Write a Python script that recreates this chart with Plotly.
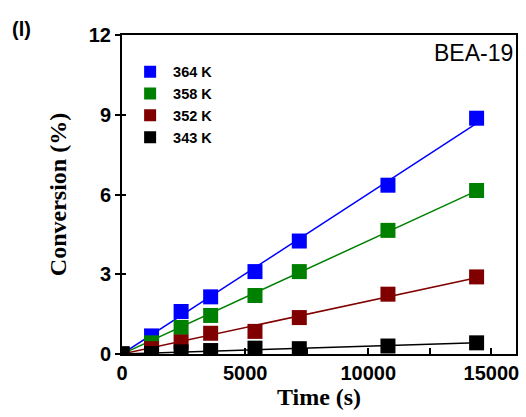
import numpy as np
import plotly.graph_objects as go

time_s = [0, 1200, 2400, 3600, 5400, 7200, 10800, 14400]
labels = ["364 K", "358 K", "352 K", "343 K"]
colors = ["#0000FF", "#008000", "#800000", "#000000"]
conv_364 = [0, 0.68, 1.6, 2.15, 3.1, 4.25, 6.35, 8.87]
conv_358 = [0, 0.42, 1.0, 1.45, 2.2, 3.1, 4.65, 6.15]
conv_352 = [0, 0.2, 0.45, 0.78, 0.85, 1.37, 2.25, 2.9]
conv_343 = [0, 0.02, 0.08, 0.13, 0.22, 0.2, 0.3, 0.42]
series = [conv_364, conv_358, conv_352, conv_343]
x_ticks = [0, 5000, 10000, 15000]
x_minor = [2500, 7500, 12500]
y_ticks = [0, 3, 6, 9, 12]

fig = go.Figure()
t = np.array(time_s, dtype=float)
for lab, col, ys in zip(labels, colors, series):
    y = np.array(ys, dtype=float)
    slope = float((t * y).sum() / (t * t).sum())
    fig.add_trace(go.Scatter(x=[0, t[-1]], y=[0, slope * t[-1]], mode="lines",
                             line=dict(color=col, width=1.5), showlegend=False,
                             hoverinfo="skip"))
for lab, col, ys in zip(labels, colors, series):
    fig.add_trace(go.Scatter(x=time_s, y=ys, mode="markers", name="<b>%s</b>" % lab,
                             marker=dict(symbol="square", size=15, color=col)))
# invisible trace to activate the inner-tick overlay axis
fig.add_trace(go.Scatter(x=[None], y=[None], yaxis="y2", showlegend=False,
                         hoverinfo="skip"))

tickfont = dict(family="Liberation Sans", size=20, color="black")
fig.update_layout(
    width=526, height=417,
    margin=dict(l=122, r=7, t=35, b=63),
    paper_bgcolor="white", plot_bgcolor="white",
    font=dict(family="Liberation Sans", color="black"),
    legend=dict(x=0.013, y=0.935, xanchor="left", yanchor="top",
                bgcolor="rgba(0,0,0,0)", borderwidth=0,
                font=dict(family="Liberation Sans", size=14.5),
                itemsizing="constant", tracegroupgap=0, itemwidth=36),
    xaxis=dict(range=[0, 16000], tickvals=x_ticks,
               ticktext=["<b>%d</b>" % v for v in x_ticks],
               ticks="inside", ticklen=6, tickwidth=1.5, tickcolor="black",
               minor=dict(tickvals=x_minor, ticks="inside", ticklen=6,
                          tickwidth=1.5, tickcolor="black"),
               showline=True, linewidth=2, linecolor="black", mirror=True,
               showgrid=False, zeroline=False, tickfont=tickfont,
               title=dict(text="<b>Time (s)</b>", standoff=5,
                          font=dict(family="Liberation Serif", size=24))),
    yaxis=dict(range=[0, 12], tickvals=y_ticks,
               ticktext=["<b>%d</b>" % v for v in y_ticks],
               ticks="outside", ticklen=5, tickwidth=2, tickcolor="black",
               showline=True, linewidth=2, linecolor="black", mirror=True,
               showgrid=False, zeroline=False, tickfont=tickfont,
               title=dict(text="<b>Conversion (%)</b>", standoff=15,
                          font=dict(family="Liberation Serif", size=24))),
    yaxis2=dict(range=[0, 12], tickvals=y_ticks, overlaying="y", side="left",
                ticks="inside", ticklen=4, tickwidth=2, tickcolor="black",
                showticklabels=False, showline=False, showgrid=False,
                zeroline=False),
    annotations=[
        dict(text="BEA-19", xref="paper", yref="paper", x=0.997, y=0.99,
             xanchor="right", yanchor="top", showarrow=False,
             font=dict(family="Liberation Sans", size=23)),
        dict(text="<b>(l)</b>", xref="paper", yref="paper", x=-0.285, y=1.06,
             xanchor="left", yanchor="top", showarrow=False,
             font=dict(family="Liberation Sans", size=20)),
    ],
)

fig.write_html("out.html")
